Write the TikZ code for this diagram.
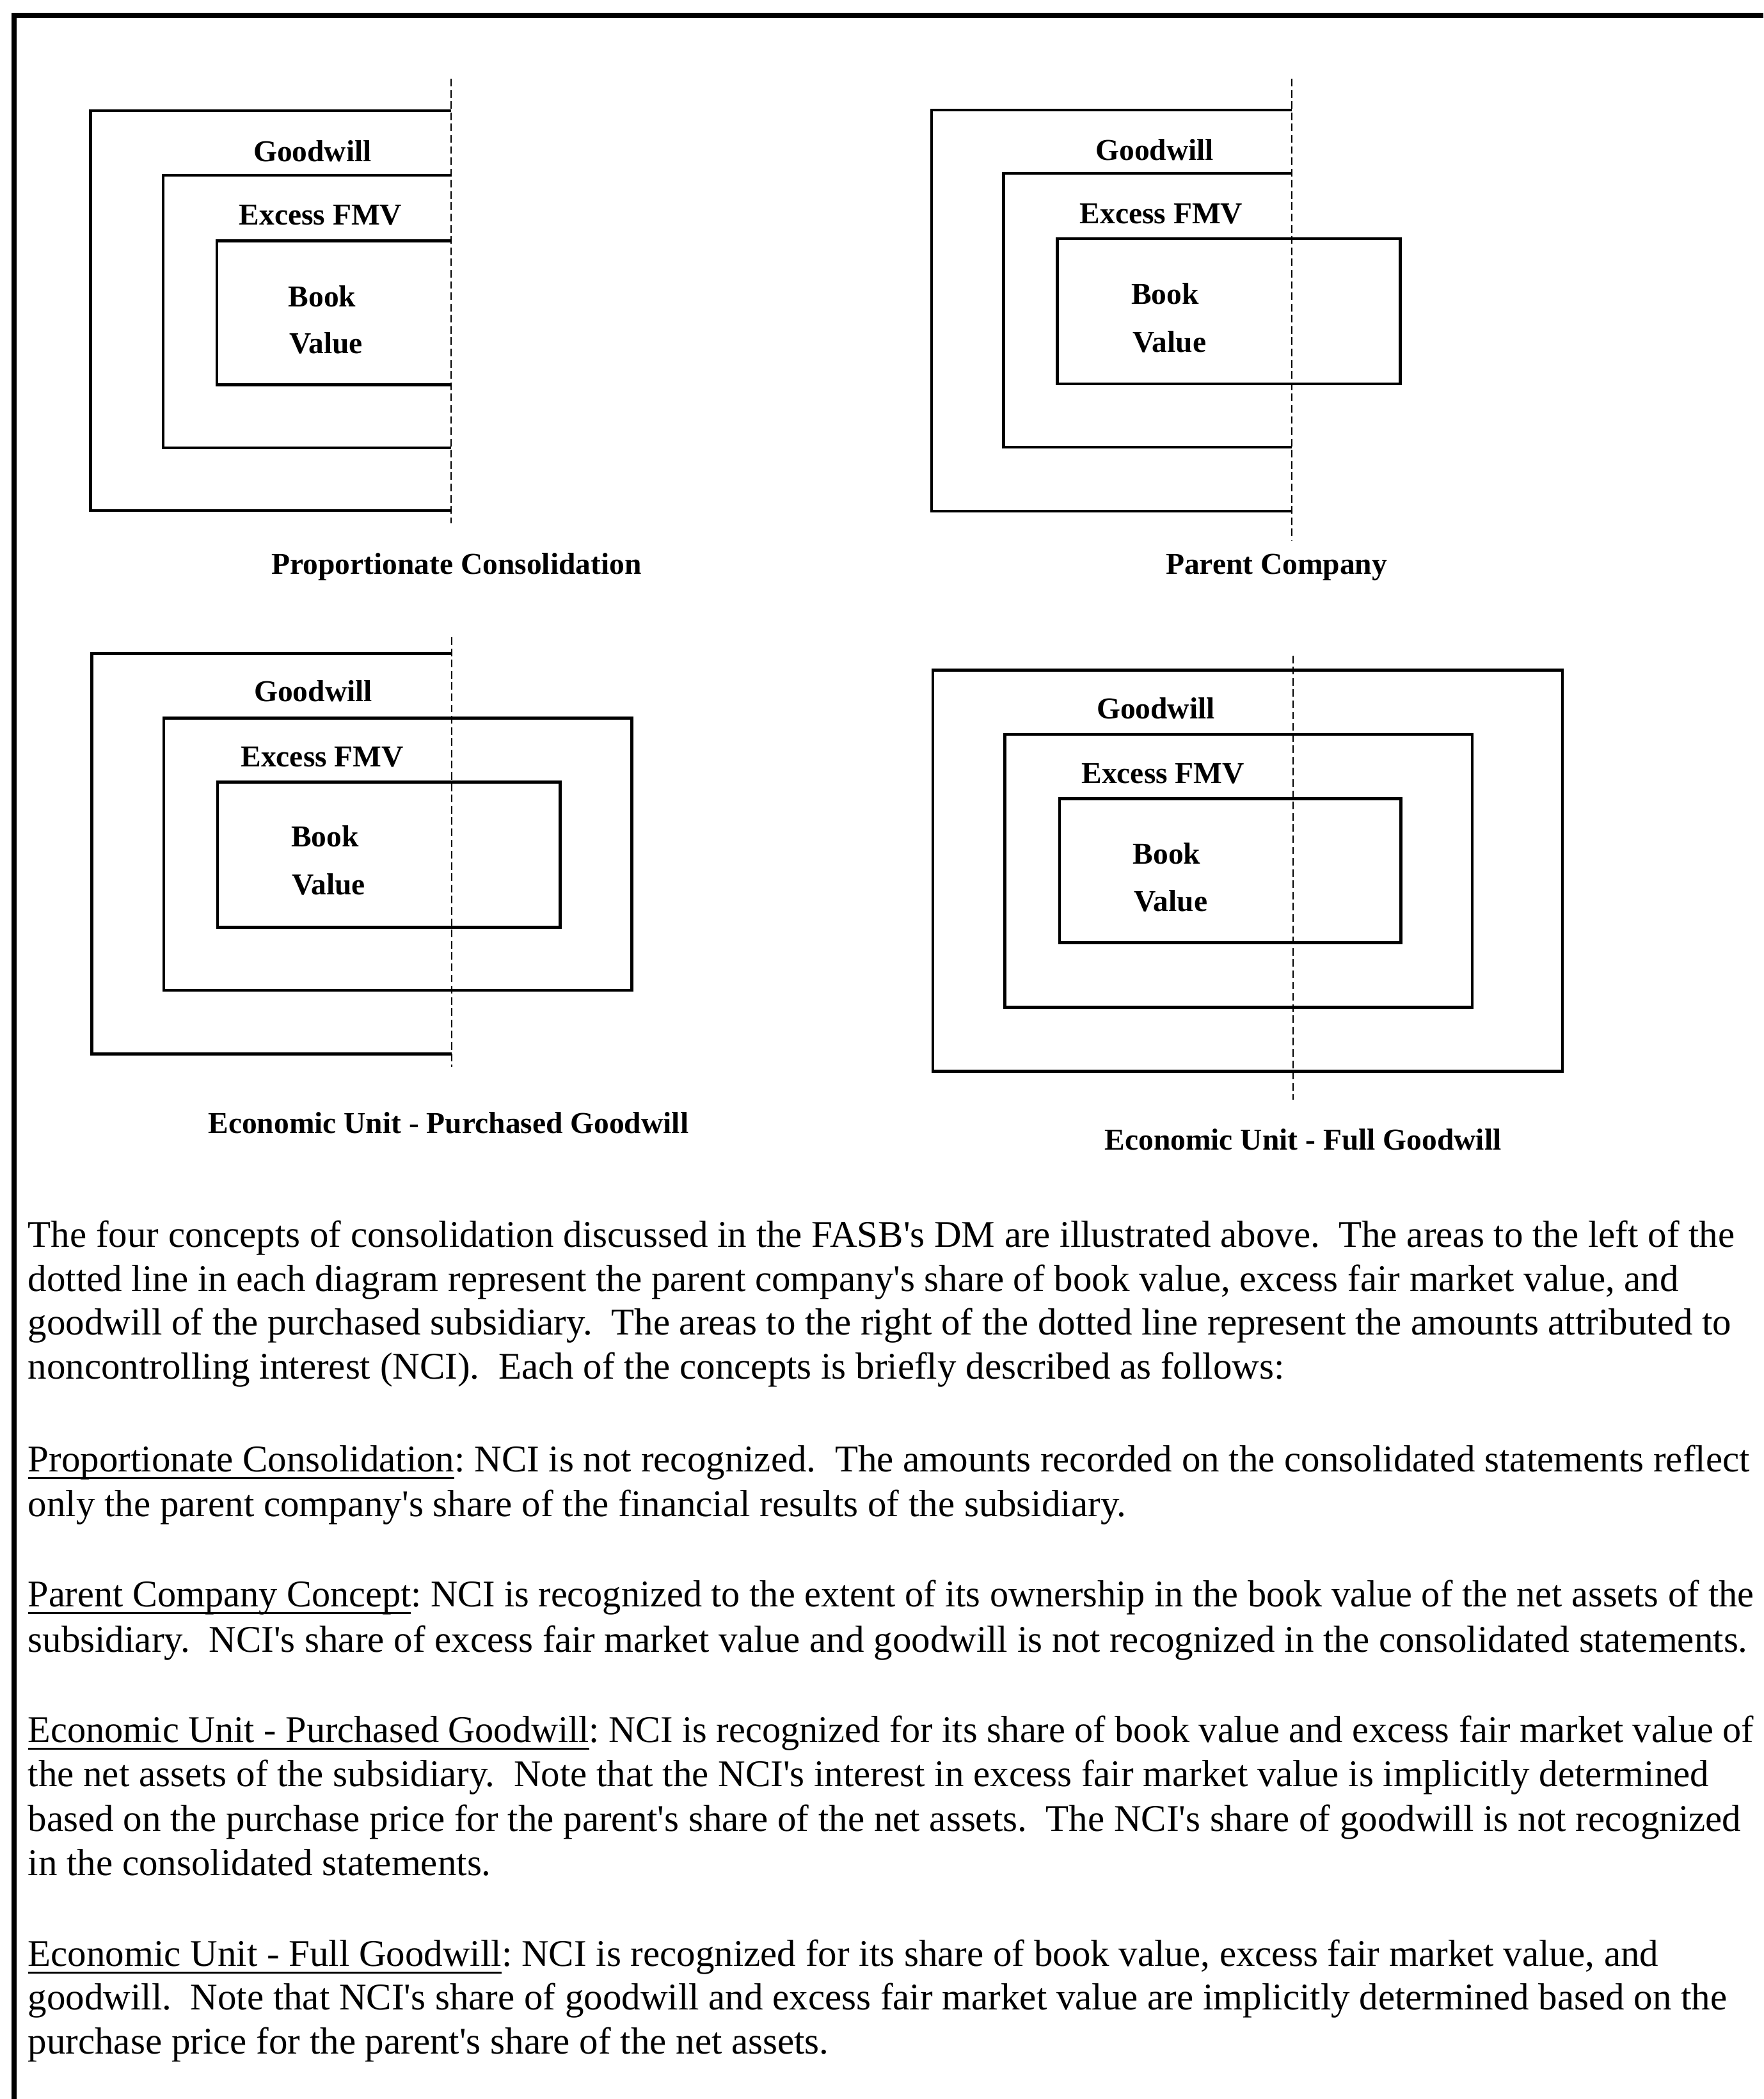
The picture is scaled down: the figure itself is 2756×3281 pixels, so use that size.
\documentclass[tikz,border=0pt]{standalone}
\usepackage{fontspec}
\setmainfont{Liberation Serif}[Ligatures=TeXOff]
\newcommand\bodyfont{\fontsize{16.77pt}{19.8pt}\selectfont}
\newcommand\lblfont{\fontsize{13.5pt}{16pt}\selectfont\bfseries}
% underlined concept name: rule a little below the baseline, crossing descenders
\newcommand\conceptname[1]{\setbox0\hbox{#1}\rlap{\rule[-0.2em]{\wd0}{0.05em}}\box0}
% slightly narrowed line so that the longest lines stay within the page
\newcommand\narrowline[1]{\scalebox{0.988}[1]{#1}}
\begin{document}
\frenchspacing
\begin{tikzpicture}[
  x=0.01cm, y=-0.01cm,
  box/.style={line width=1.4pt},
  split/.style={line width=0.6pt, dash pattern=on 3.4pt off 1.6pt},
  lbl/.style={inner sep=0pt, anchor=base, font=\lblfont},
  lblw/.style={lbl, anchor=base west},
  txt/.style={inner sep=0pt, anchor=base west, font=\bodyfont},
  frame/.style={line width=2pt}
]
\useasboundingbox (0,0) rectangle (2756,3281);
\begin{scope}
\clip (0,0) rectangle (2756,3281);

% page frame (top and left edges)
\draw[frame] (2756,24) -- (22,24) -- (22,3281);

% ---------- Proportionate Consolidation ----------
\draw[box] (705,173) -- (141.6,173) -- (141.6,798) -- (705,798);
\draw[box] (705,274) -- (255,274) -- (255,700) -- (705,700);
\draw[box] (705,376.5) -- (339,376.5) -- (339,601.5) -- (705,601.5);
\draw[split] (705,123) -- (705,818);
\node[lbl]  (pr-gw)  at (488.5,252) {Goodwill};
\node[lbl]  (pr-fmv) at (501,351) {Excess FMV};
\node[lblw] (pr-bk)  at (450,479) {Book};
\node[lblw] (pr-val) at (452,552) {Value};
\node[lbl]  (pr-cap) at (713.6,897) {Proportionate Consolidation};

% ---------- Parent Company ----------
\draw[box] (2019,172) -- (1456,172) -- (1456,799) -- (2019,799);
\draw[box] (2019,271) -- (1568.6,271) -- (1568.6,699) -- (2019,699);
\draw[box] (1652.5,373) rectangle (2188.7,600);
\draw[split] (2019,123) -- (2019,844);
\node[lbl]  (pa-gw)  at (1804.7,250) {Goodwill};
\node[lbl]  (pa-fmv) at (1815,349) {Excess FMV};
\node[lblw] (pa-bk)  at (1767.6,475) {Book};
\node[lblw] (pa-val) at (1770,550) {Value};
\node[lbl]  (pa-cap) at (1995,897) {Parent Company};

% ---------- Economic Unit - Purchased Goodwill ----------
\draw[box] (706,1021.8) -- (143.8,1021.8) -- (143.8,1647.5) -- (706,1647.5);
\draw[box] (256,1122.2) rectangle (987.7,1548);
\draw[box] (340,1222.7) rectangle (875.5,1449.4);
\draw[split] (706,996) -- (706,1667.6);
\node[lbl]  (pg-gw)  at (489.6,1096.4) {Goodwill};
\node[lbl]  (pg-fmv) at (503.7,1198) {Excess FMV};
\node[lblw] (pg-bk)  at (454.6,1323) {Book};
\node[lblw] (pg-val) at (456,1398) {Value};
\node[lbl]  (pg-cap) at (700.8,1771) {Economic Unit - Purchased Goodwill};

% ---------- Economic Unit - Full Goodwill ----------
\draw[box] (1458,1047.6) rectangle (2442,1674.5);
\draw[box] (1570.4,1148) rectangle (2301,1574.6);
\draw[box] (1656,1248.5) rectangle (2189.6,1473.5);
\draw[split] (2021,1024.6) -- (2021,1719);
\node[lbl]  (fg-gw)  at (1806.5,1123.4) {Goodwill};
\node[lbl]  (fg-fmv) at (1817.7,1224.4) {Excess FMV};
\node[lblw] (fg-bk)  at (1770,1350.7) {Book};
\node[lblw] (fg-val) at (1772,1424) {Value};
\node[lbl]  (fg-cap) at (2036.5,1797) {Economic Unit - Full Goodwill};

% ---------- explanatory text ----------
\node[txt] (t1a) at (43,1949) {The four concepts of consolidation discussed in the FASB's DM are illustrated above.\ \ The areas to the left of the};
\node[txt] (t1b) at (43,2018) {dotted line in each diagram represent the parent company's share of book value, excess fair market value, and};
\node[txt] (t1c) at (43,2086) {goodwill of the purchased subsidiary.\ \ The areas to the right of the dotted line represent the amounts attributed to};
\node[txt] (t1d) at (43,2155) {noncontrolling interest (NCI).\ \ Each of the concepts is briefly described as follows:};

\node[txt] (t2a) at (43,2300) {\conceptname{Proportionate Consolidation}: NCI is not recognized.\ \ The amounts recorded on the consolidated statements reflect};
\node[txt] (t2b) at (43,2370) {only the parent company's share of the financial results of the subsidiary.};

\node[txt] (t3a) at (43,2511) {\narrowline{\conceptname{Parent Company Concept}: NCI is recognized to the extent of its ownership in the book value of the net assets of the}};
\node[txt] (t3b) at (43,2582) {subsidiary.\ \ NCI's share of excess fair market value and goodwill is not recognized in the consolidated statements.};

\node[txt] (t4a) at (43,2723) {\narrowline{\conceptname{Economic Unit - Purchased Goodwill}: NCI is recognized for its share of book value and excess fair market value of}};
\node[txt] (t4b) at (43,2792) {the net assets of the subsidiary.\ \ Note that the NCI's interest in excess fair market value is implicitly determined};
\node[txt] (t4c) at (43,2862) {based on the purchase price for the parent's share of the net assets.\ \ The NCI's share of goodwill is not recognized};
\node[txt] (t4d) at (43,2931) {in the consolidated statements.};

\node[txt] (t5a) at (43,3073) {\conceptname{Economic Unit - Full Goodwill}: NCI is recognized for its share of book value, excess fair market value, and};
\node[txt] (t5b) at (43,3141) {goodwill.\ \ Note that NCI's share of goodwill and excess fair market value are implicitly determined based on the};
\node[txt] (t5c) at (43,3210) {purchase price for the parent's share of the net assets.};
\end{scope}
\end{tikzpicture}
\end{document}
